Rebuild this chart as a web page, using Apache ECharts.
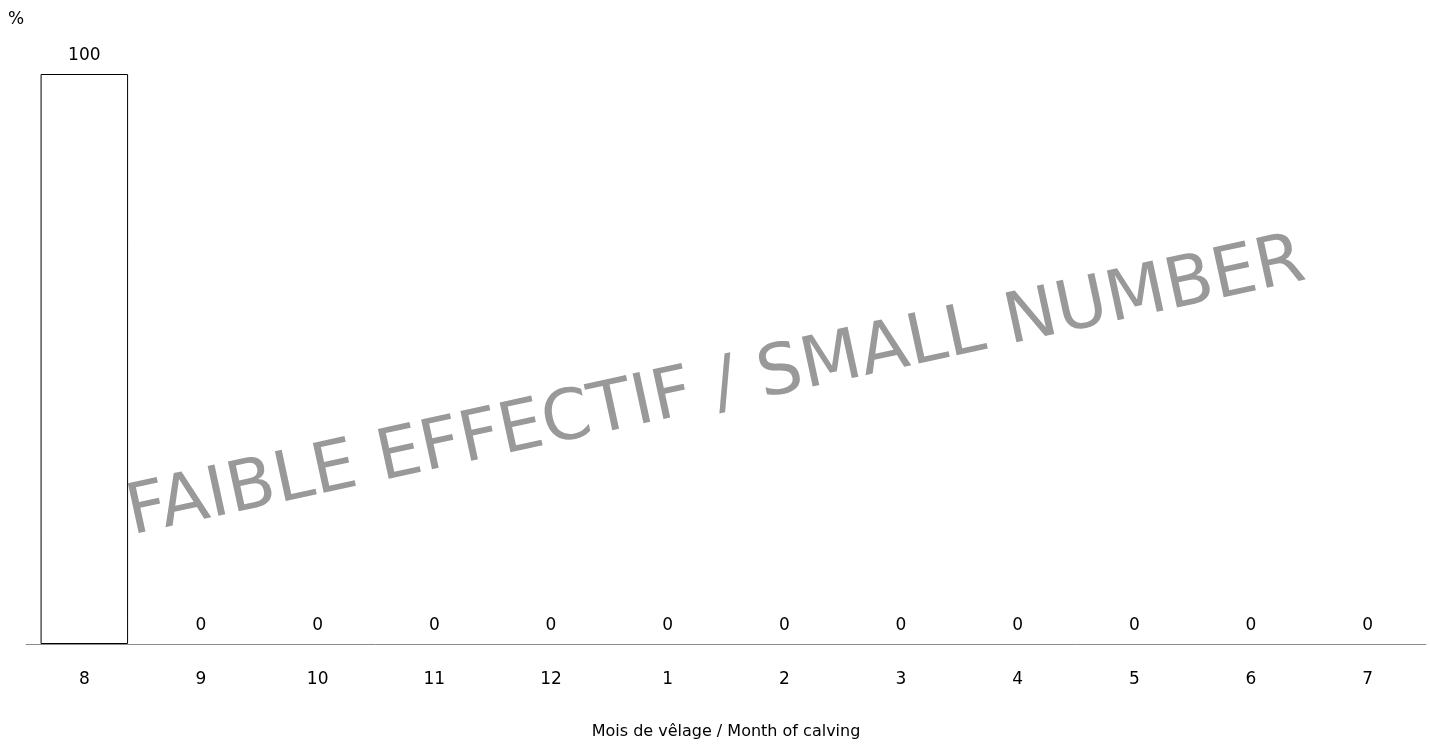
<!DOCTYPE html>
<html><head><meta charset="utf-8">
<script src="https://cdn.jsdelivr.net/npm/echarts@6/dist/echarts.min.js"></script>
<style>html,body{margin:0;padding:0;background:#fff}#c{width:1430px;height:745px}</style>
</head><body><div id="c"></div>
<script>
const months = ['8','9','10','11','12','1','2','3','4','5','6','7'];
const percents = [100,0,0,0,0,0,0,0,0,0,0,0];
const xTitle = 'Mois de vêlage / Month of calving';
const yTitle = '%';
const watermark = 'FAIBLE EFFECTIF / SMALL NUMBER';

const chart = echarts.init(document.getElementById('c'));
chart.setOption({
  animation: false,
  textStyle: {fontFamily: 'DejaVu Sans'},
  grid: {left: 26, right: 4, top: 74, bottom: 101, outerBoundsMode: 'none', containLabel: false},
  xAxis: {
    type: 'category', data: months, z: 5,
    axisLine: {lineStyle: {color: '#8c8c8c', width: 1}},
    axisTick: {show: false},
    axisLabel: {color: '#000', fontSize: 17, margin: 27},
    name: xTitle, nameLocation: 'middle', nameGap: 80,
    nameTextStyle: {color: '#000', fontSize: 16}
  },
  yAxis: {
    type: 'value', min: 0, max: 100, show: false
  },
  graphic: [
    {type: 'text', left: 8, top: 11, style: {text: yTitle, fontSize: 17, fill: '#000', fontFamily: 'DejaVu Sans'}},
    {type: 'text', x: 716, y: 389, rotation: 0.214, z: 1,
     style: {text: watermark, fontSize: 70, fill: '#999', fontFamily: 'DejaVu Sans', align: 'center', verticalAlign: 'middle'}}
  ],
  series: [{
    type: 'bar', barCategoryGap: '25%', z: 3,
    data: percents.map(v => v === 0 ? {value: v, itemStyle: {borderWidth: 0}} : v),
    itemStyle: {color: 'rgba(255,255,255,0)', borderColor: '#000', borderWidth: 1},
    label: {show: true, position: 'top', distance: 10, color: '#000', fontSize: 17}
  }]
});
</script></body></html>
